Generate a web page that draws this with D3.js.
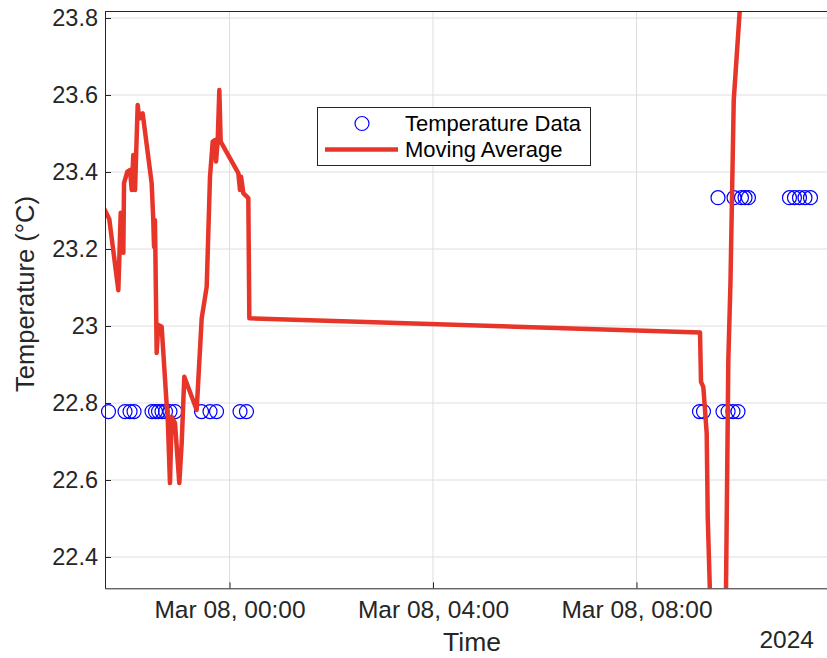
<!DOCTYPE html>
<html>
<head>
<meta charset="utf-8">
<script src="https://cdn.jsdelivr.net/npm/d3@7"></script>
<style>
  html, body { margin: 0; padding: 0; background: #fff; }
  svg { display: block; font-family: "Liberation Sans", Arial, sans-serif; }
</style>
</head>
<body>
<div id="chart"></div>
<script>
// raw readings (73 °F and 74 °F, shown in °C)
const sampleTimes = [
    "2024-03-07 21:37:18", "2024-03-07 21:56:48", "2024-03-07 22:02:42", "2024-03-07 22:07:24",
    "2024-03-07 22:28:36", "2024-03-07 22:32:42", "2024-03-07 22:36:18", "2024-03-07 22:40:24",
    "2024-03-07 22:44:30", "2024-03-07 22:49:48", "2024-03-07 22:55:42", "2024-03-07 23:27:00",
    "2024-03-07 23:37:00", "2024-03-07 23:44:42", "2024-03-08 00:12:24", "2024-03-08 00:20:00",
    "2024-03-08 09:14:18", "2024-03-08 09:19:00", "2024-03-08 09:36:06", "2024-03-08 09:42:00",
    "2024-03-08 09:48:00", "2024-03-08 09:53:48", "2024-03-08 09:55:00", "2024-03-08 09:59:42",
    "2024-03-08 10:03:48", "2024-03-08 10:08:00", "2024-03-08 10:12:00", "2024-03-08 11:00:24",
    "2024-03-08 11:06:18", "2024-03-08 11:12:12", "2024-03-08 11:18:42", "2024-03-08 11:25:12"
];
const sampleTemps = [
    22.7778, 22.7778, 22.7778, 22.7778,
    22.7778, 22.7778, 22.7778, 22.7778,
    22.7778, 22.7778, 22.7778, 22.7778,
    22.7778, 22.7778, 22.7778, 22.7778,
    22.7778, 22.7778, 23.3333, 22.7778,
    22.7778, 22.7778, 23.3333, 22.7778,
    23.3333, 23.3333, 23.3333, 23.3333,
    23.3333, 23.3333, 23.3333, 23.3333
];

const avgTimes = [
    "2024-03-07 21:31:00", "2024-03-07 21:38:12", "2024-03-07 21:48:54", "2024-03-07 21:51:42",
    "2024-03-07 21:54:48", "2024-03-07 21:55:36", "2024-03-07 21:59:30", "2024-03-07 22:02:42",
    "2024-03-07 22:04:42", "2024-03-07 22:06:30", "2024-03-07 22:08:36", "2024-03-07 22:11:42",
    "2024-03-07 22:13:36", "2024-03-07 22:17:36", "2024-03-07 22:28:12", "2024-03-07 22:30:06",
    "2024-03-07 22:31:00", "2024-03-07 22:32:06", "2024-03-07 22:34:06", "2024-03-07 22:36:00",
    "2024-03-07 22:40:00", "2024-03-07 22:45:54", "2024-03-07 22:46:54", "2024-03-07 22:49:48",
    "2024-03-07 22:51:48", "2024-03-07 22:55:42", "2024-03-07 23:00:48", "2024-03-07 23:03:36",
    "2024-03-07 23:06:42", "2024-03-07 23:21:18", "2024-03-07 23:27:12", "2024-03-07 23:33:06",
    "2024-03-07 23:37:00", "2024-03-07 23:40:12", "2024-03-07 23:42:54", "2024-03-07 23:44:06",
    "2024-03-07 23:46:06", "2024-03-07 23:48:00", "2024-03-07 23:49:36", "2024-03-08 00:10:24",
    "2024-03-08 00:12:24", "2024-03-08 00:13:36", "2024-03-08 00:16:18", "2024-03-08 00:22:12",
    "2024-03-08 00:23:24", "2024-03-08 09:14:54", "2024-03-08 09:16:06", "2024-03-08 09:18:48",
    "2024-03-08 09:22:48", "2024-03-08 09:24:00", "2024-03-08 09:27:36", "2024-03-08 09:45:12",
    "2024-03-08 09:48:18", "2024-03-08 09:50:48", "2024-03-08 09:54:42", "2024-03-08 10:04:12"
];
const avgTemps = [
    23.310, 23.278, 23.093, 23.294,
    23.190, 23.371, 23.401, 23.405,
    23.353, 23.444, 23.353, 23.574,
    23.539, 23.552, 23.371, 23.275,
    23.206, 23.275, 22.930, 23.003,
    22.998, 22.795, 22.777, 22.592,
    22.764, 22.748, 22.592, 22.696,
    22.868, 22.782, 23.020, 23.102,
    23.388, 23.479, 23.483, 23.427,
    23.483, 23.613, 23.479, 23.397,
    23.353, 23.388, 23.345, 23.332,
    23.020, 22.983, 22.855, 22.842,
    22.721, 22.505, 22.236, 22.236,
    22.912, 23.111, 23.587, 23.899
];

const xDomain = ["2024-03-07 21:33:10", "2024-03-08 11:56:28"];
const xTicks = ["2024-03-08 00:00:00", "2024-03-08 04:00:00", "2024-03-08 08:00:00"];
const yDomain = [22.3187, 23.8169];
const yTicks = [22.4, 22.6, 22.8, 23.0, 23.2, 23.4, 23.6, 23.8];
const legendLabels = ["Temperature Data", "Moving Average"];

(function () {
    const width = 827;
    const height = 658;
    const plot = { left: 105, right: 837, top: 11.5, bottom: 588.3 };
    const ink = '#262626';
    const lineColor = '#e8352a';
    const dotColor = '#0000ff';

    const parse = d3.timeParse('%Y-%m-%d %H:%M:%S');

    const svg = d3.select('#chart').append('svg')
        .attr('width', width)
        .attr('height', height);

    const x = d3.scaleTime().domain(xDomain.map(parse)).range([plot.left, plot.right]);
    const y = d3.scaleLinear().domain(yDomain).range([plot.bottom, plot.top]);

    svg.append('clipPath').attr('id', 'plot-clip')
        .append('rect')
        .attr('x', plot.left).attr('y', plot.top)
        .attr('width', plot.right - plot.left)
        .attr('height', plot.bottom - plot.top);

    // grid
    const grid = svg.append('g').attr('stroke', '#dedede').attr('stroke-width', 1);
    grid.selectAll('.gx').data(xTicks.map(parse)).join('line')
        .attr('class', 'gx')
        .attr('x1', d => x(d)).attr('x2', d => x(d))
        .attr('y1', plot.top).attr('y2', plot.bottom);
    grid.selectAll('.gy').data(yTicks).join('line')
        .attr('class', 'gy')
        .attr('x1', plot.left).attr('x2', plot.right)
        .attr('y1', d => y(d)).attr('y2', d => y(d));

    const samples = sampleTimes.map((t, i) => ({ t: parse(t), v: sampleTemps[i] }));
    const avg = avgTimes.map((t, i) => ({ t: parse(t), v: avgTemps[i] }));

    // markers are kept when their centre is inside the axes, like MATLAB does
    const [t0, t1] = x.domain();
    svg.append('g').selectAll('circle')
        .data(samples.filter(d => d.t >= t0 && d.t <= t1))
        .join('circle')
        .attr('cx', d => x(d.t))
        .attr('cy', d => y(d.v))
        .attr('r', 7)
        .attr('fill', 'none')
        .attr('stroke', dotColor)
        .attr('stroke-width', 1.2);

    const line = d3.line().x(d => x(d.t)).y(d => y(d.v));
    svg.append('path')
        .datum(avg)
        .attr('clip-path', 'url(#plot-clip)')
        .attr('d', line)
        .attr('fill', 'none')
        .attr('stroke', lineColor)
        .attr('stroke-width', 4.5)
        .attr('stroke-linejoin', 'round');

    // axes
    const xAxis = d3.axisBottom(x)
        .tickValues(xTicks.map(parse))
        .tickFormat(d3.timeFormat('%b %d, %H:%M'))
        .tickSize(-6).tickSizeOuter(0).tickPadding(12);
    const yAxis = d3.axisLeft(y)
        .tickValues(yTicks)
        .tickFormat(d => String(+d.toFixed(1)))
        .tickSize(-6).tickSizeOuter(0).tickPadding(7);

    const gx = svg.append('g').attr('transform', `translate(0,${plot.bottom})`).call(xAxis);
    const gy = svg.append('g').attr('transform', `translate(${plot.left},0)`).call(yAxis);
    gx.attr('font-family', null).attr('font-size', 24.5);
    gy.attr('font-family', null).attr('font-size', 23.5);
    [gx, gy].forEach(g => {
        g.selectAll('path, line').attr('stroke', ink);
        g.selectAll('text').attr('fill', ink);
    });

    svg.append('line')
        .attr('x1', plot.left).attr('x2', plot.right)
        .attr('y1', plot.top).attr('y2', plot.top)
        .attr('stroke', ink);

    // labels
    svg.append('text')
        .attr('x', 472).attr('y', 651)
        .attr('text-anchor', 'middle')
        .attr('font-size', 26.5)
        .attr('fill', ink)
        .text('Time');
    svg.append('text')
        .attr('transform', 'translate(34,294) rotate(-90)')
        .attr('text-anchor', 'middle')
        .attr('font-size', 25.5)
        .attr('fill', ink)
        .text('Temperature (°C)');
    svg.append('text')
        .attr('x', 814).attr('y', 648)
        .attr('text-anchor', 'end')
        .attr('font-size', 24.5)
        .attr('fill', ink)
        .text(d3.timeFormat('%Y')(x.domain()[0]));

    // legend
    const lg = svg.append('g');
    lg.append('rect')
        .attr('x', 317.5).attr('y', 107.5)
        .attr('width', 273).attr('height', 58)
        .attr('fill', '#fff')
        .attr('stroke', ink);
    lg.append('circle')
        .attr('cx', 362).attr('cy', 123.5).attr('r', 7)
        .attr('fill', 'none').attr('stroke', dotColor).attr('stroke-width', 1.2);
    lg.append('line')
        .attr('x1', 325).attr('x2', 398)
        .attr('y1', 149.5).attr('y2', 149.5)
        .attr('stroke', lineColor).attr('stroke-width', 4.5);
    lg.selectAll('.lt').data(legendLabels).join('text')
        .attr('class', 'lt')
        .attr('x', 405)
        .attr('y', (d, i) => 123.5 + i * 26)
        .attr('dy', '0.35em')
        .attr('font-size', 22)
        .attr('fill', '#000')
        .text(d => d);
})();
</script>
</body>
</html>
